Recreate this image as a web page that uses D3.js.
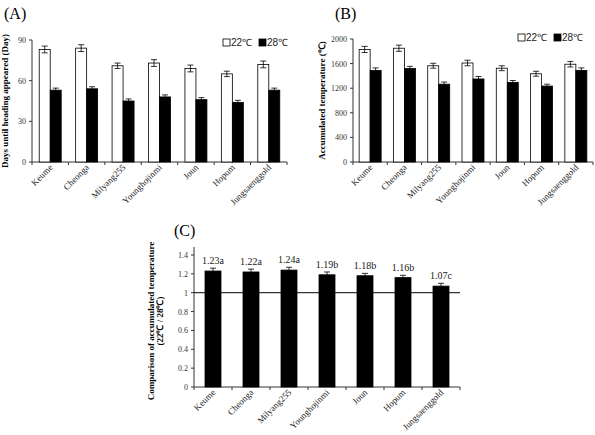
<!DOCTYPE html>
<html>
<head>
<meta charset="utf-8">
<script src="https://cdn.jsdelivr.net/npm/d3@7"></script>
<style>
body { margin: 0; background: #fff; }
svg { display: block; }
</style>
</head>
<body>
<svg id="canvas" width="595" height="435"></svg>
<script>
const width = 595
const height = 435

const cultivars = ["Keume", "Cheonga", "Milyang255", "Younghojinmi", "Joun", "Hopum", "Jungsaenggold"]

// (A) days until heading
const days22 = [83, 84, 71, 73, 69, 65, 72]
const days22Err = [2.5, 2.5, 2, 2.5, 2.5, 2, 2.5]
const days28 = [53, 54, 45, 48, 46, 44, 53]
const days28Err = [1.5, 1.5, 1.5, 1.5, 1.5, 1.5, 1.5]
const daysTicks = [0, 30, 60, 90]

// (B) accumulated temperature
const temp22 = [1830, 1850, 1565, 1610, 1525, 1435, 1590]
const temp22Err = [50, 50, 40, 45, 40, 40, 45]
const temp28 = [1490, 1520, 1265, 1350, 1295, 1235, 1490]
const temp28Err = [40, 35, 35, 40, 30, 30, 40]
const tempTicks = [0, 400, 800, 1200, 1600, 2000]

// (C) ratio 22 / 28
const ratio = [1.23, 1.22, 1.24, 1.19, 1.18, 1.16, 1.07]
const ratioErr = [0.03, 0.03, 0.03, 0.03, 0.025, 0.025, 0.03]
const ratioLabels = ["1.23a", "1.22a", "1.24a", "1.19b", "1.18b", "1.16b", "1.07c"]
const ratioTicks = [0, 0.2, 0.4, 0.6, 0.8, 1, 1.2, 1.4]

const serif = "'Liberation Serif', 'Times New Roman', serif"
const sans = "'Liberation Sans', Arial, sans-serif"

const canvas = d3.select("#canvas")

function drawPanel(opt) {
    const g = canvas.append("g")
    const x = d3.scaleBand().domain(cultivars).range([opt.left, opt.right])
    const y = d3.scaleLinear().domain([0, opt.max]).range([opt.bottom, opt.top])

    // y axis
    g.append("line")
        .attr("x1", opt.left).attr("x2", opt.left)
        .attr("y1", opt.bottom).attr("y2", opt.axisTop || y(opt.max))
        .attr("stroke", "#333").attr("stroke-width", 1)
    opt.ticks.forEach(t => {
        g.append("line")
            .attr("x1", opt.left - 3).attr("x2", opt.left)
            .attr("y1", y(t)).attr("y2", y(t))
            .attr("stroke", "#333")
        g.append("text")
            .attr("x", opt.left - 6).attr("y", y(t) + 3)
            .attr("text-anchor", "end")
            .attr("font-family", serif).attr("font-size", 8)
            .attr("fill", "#333")
            .text(t)
    })

    // x axis
    g.append("line")
        .attr("x1", opt.left).attr("x2", opt.right)
        .attr("y1", opt.bottom).attr("y2", opt.bottom)
        .attr("stroke", "#333")
    cultivars.forEach((c, i) => {
        const bx = x(c)
        g.append("line")
            .attr("x1", bx).attr("x2", bx)
            .attr("y1", opt.bottom).attr("y2", opt.bottom + 3)
            .attr("stroke", "#333")
        const cx = bx + x.bandwidth() / 2 + 3
        g.append("text")
            .attr("transform", `translate(${cx},${opt.bottom + 6}) rotate(-45)`)
            .attr("text-anchor", "end")
            .attr("font-family", serif).attr("font-size", 9)
            .attr("fill", "#222")
            .text(c)
    })
    g.append("line")
        .attr("x1", opt.right).attr("x2", opt.right)
        .attr("y1", opt.bottom).attr("y2", opt.bottom + 3)
        .attr("stroke", "#333")

    // bars
    opt.series.forEach((s, k) => {
        s.values.forEach((v, i) => {
            const bx = x(cultivars[i]) + x.bandwidth() / 2 + s.offset
            g.append("rect")
                .attr("x", bx).attr("y", y(v))
                .attr("width", opt.barWidth).attr("height", opt.bottom - y(v))
                .attr("fill", s.fill).attr("stroke", "#000").attr("stroke-width", 0.8)
            const ex = bx + opt.barWidth / 2
            const e = s.err[i]
            g.append("line")
                .attr("x1", ex).attr("x2", ex)
                .attr("y1", y(v + e)).attr("y2", y(v - e))
                .attr("stroke", "#000").attr("stroke-width", 0.8)
            ;[v + e, v - e].forEach(w => {
                g.append("line")
                    .attr("x1", ex - 3).attr("x2", ex + 3)
                    .attr("y1", y(w)).attr("y2", y(w))
                    .attr("stroke", "#000").attr("stroke-width", 0.8)
            })
            if (s.labels) {
                g.append("text")
                    .attr("x", ex).attr("y", y(v + e) - 4)
                    .attr("text-anchor", "middle")
                    .attr("font-family", serif).attr("font-size", 10)
                    .attr("fill", "#222")
                    .text(s.labels[i])
            }
        })
    })

    // title
    g.append("text")
        .attr("x", opt.titleX).attr("y", opt.titleY)
        .attr("font-family", serif).attr("font-size", 16)
        .text(opt.title)

    // y label
    opt.yLabel.forEach((l, j) => {
        g.append("text")
            .attr("transform", `translate(${opt.yLabelX + j * 9},${(opt.top + opt.bottom) / 2}) rotate(-90)`)
            .attr("text-anchor", "middle")
            .attr("font-family", serif).attr("font-size", 9).attr("font-weight", "bold")
            .text(l)
    })

    // legend
    if (opt.legendX) {
        const lg = g.append("g").attr("transform", `translate(${opt.legendX},${opt.legendY})`)
        ;[["22℃", "#fff", 0], ["28℃", "#000", 36]].forEach(d => {
            lg.append("rect")
                .attr("x", d[2]).attr("y", -7).attr("width", 7).attr("height", 7)
                .attr("fill", d[1]).attr("stroke", "#000").attr("stroke-width", 0.8)
            lg.append("text")
                .attr("x", d[2] + 8).attr("y", 0)
                .attr("font-family", sans).attr("font-size", 10)
                .attr("fill", "#222")
                .text(d[0])
        })
    }
}

drawPanel({
    title: "(A)", titleX: 4, titleY: 19,
    left: 32, right: 287, top: 40, bottom: 162, max: 90,
    ticks: daysTicks, barWidth: 11,
    series: [
        {values: days22, err: days22Err, fill: "#fff", offset: -11},
        {values: days28, err: days28Err, fill: "#000", offset: 0}
    ],
    yLabel: ["Days until heading appeared (Day)"], yLabelX: 8,
    legendX: 223, legendY: 46
})

drawPanel({
    title: "(B)", titleX: 335, titleY: 19,
    left: 353, right: 593, top: 39, bottom: 162, max: 2000,
    ticks: tempTicks, barWidth: 11,
    series: [
        {values: temp22, err: temp22Err, fill: "#fff", offset: -11},
        {values: temp28, err: temp28Err, fill: "#000", offset: 0}
    ],
    yLabel: ["Accumulated temperature (℃)"], yLabelX: 325,
    legendX: 518, legendY: 41
})

drawPanel({
    title: "(C)", titleX: 174, titleY: 236,
    left: 194, right: 460, top: 255, bottom: 387, max: 1.4, axisTop: 247,
    ticks: ratioTicks, barWidth: 16,
    series: [
        {values: ratio, err: ratioErr, fill: "#000", offset: -8, labels: ratioLabels}
    ],
    yLabel: ["Comparison of accumulated temperature", "(22℃ / 28℃)"], yLabelX: 154
})

// reference line at 1.0 in (C)
const yC = d3.scaleLinear().domain([0, 1.4]).range([387, 255])
canvas.append("line")
    .attr("x1", 194).attr("x2", 460)
    .attr("y1", yC(1)).attr("y2", yC(1))
    .attr("stroke", "#000").attr("stroke-width", 1)
</script>
</body>
</html>
